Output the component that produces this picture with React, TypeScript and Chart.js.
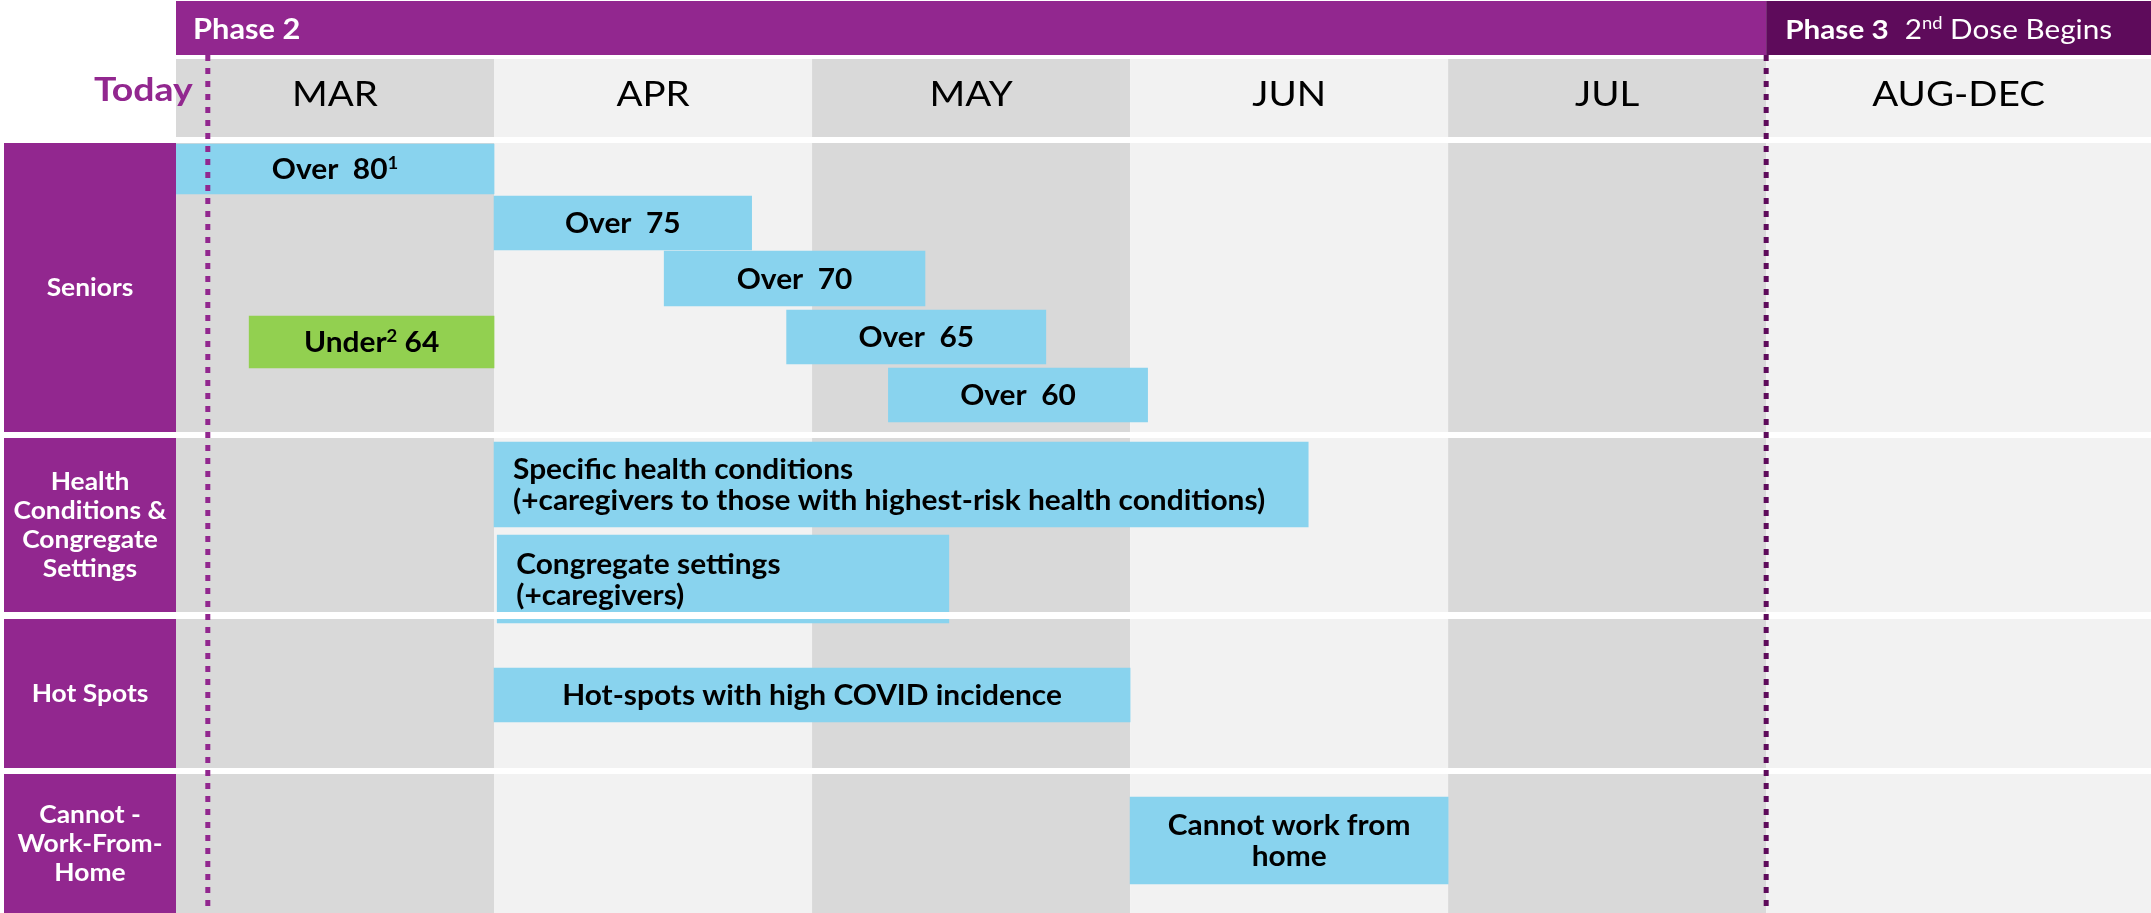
import React, { useEffect, useRef } from 'react';
import { Chart, registerables } from 'chart.js';

Chart.register(...registerables);

const W = 2151;
const H = 913;
const FONT = 'Lato, "Open Sans", sans-serif';

// ---- x axis: months (1 unit = 1 month, start of March = 0) ----
const months = ['MAR', 'APR', 'MAY', 'JUN', 'JUL', 'AUG-DEC'];
const monthStart = [0, 1, 2, 3, 4, 5];
const monthEnd = [1, 2, 3, 4, 5, 6.21];
const X_MAX = 6.21;
const todayAt = 0.1;
const phase3At = 5.0;
const phaseTitles = ['Phase 2', 'Phase 3'];
const phaseNote = '2^{nd} Dose Begins';

// ---- y axis: lane position (0 = top) ----
const Y_MAX = 91.3;
const phaseBand = [0.1, 5.5];
const headerBand = [5.9, 13.7];
const rowLabels = [
  ['Seniors'],
  ['Health', 'Conditions &', 'Congregate', 'Settings'],
  ['Hot Spots'],
  ['Cannot -', 'Work-From-', 'Home'],
];
const rowTop = [14.3, 43.8, 61.9, 77.4];
const rowBottom = [43.2, 61.2, 76.8, 91.3];

// ---- bars ----
const barLabels = [
  'Over  80^{1}',
  'Over  75',
  'Over  70',
  'Over  65',
  'Over  60',
  'Under^{2} 64',
  'Specific health conditions\n(+caregivers to those with highest-risk health conditions)',
  'Congregate settings\n(+caregivers)',
  'Hot-spots with high COVID incidence',
  'Cannot work from\nhome',
];
const barStart = [0.0, 1.0, 1.535, 1.92, 2.24, 0.23, 1.0, 1.01, 1.0, 3.0];
const barEnd = [1.0, 1.81, 2.355, 2.735, 3.055, 1.0, 3.56, 2.43, 3.0, 4.0];
const barLane = [16.9, 22.3, 27.85, 33.7, 39.5, 34.2, 48.45, 57.9, 69.5, 84.05];
const barSpan = [5.0, 5.4, 5.5, 5.4, 5.4, 5.2, 8.5, 8.8, 5.4, 8.7];
const barKind = ['blue', 'blue', 'blue', 'blue', 'blue', 'green', 'blue', 'blue', 'blue', 'blue'];

// ---- styles ----
const BLUE = '#89D3EE';
const GREEN = '#92D050';
const PURPLE = '#92278F';
const DARK = '#5E0B5B';
const GRAY = '#D9D9D9';
const LIGHT = '#F2F2F2';
const barAlign = ['center', 'center', 'center', 'center', 'center', 'center', 'left', 'left', 'center', 'center'];

function parseRich(s: string) {
  const segs: { t: string; sup: boolean }[] = [];
  const re = /\^\{([^}]*)\}/g;
  let last = 0;
  let m: RegExpExecArray | null;
  while ((m = re.exec(s))) {
    if (m.index > last) segs.push({ t: s.slice(last, m.index), sup: false });
    segs.push({ t: m[1], sup: true });
    last = m.index + m[0].length;
  }
  if (last < s.length) segs.push({ t: s.slice(last), sup: false });
  return segs;
}

function drawRich(
  ctx: CanvasRenderingContext2D,
  text: string,
  x: number,
  baseline: number,
  size: number,
  weight: string,
  color: string,
  align: string,
  stretch = 1
) {
  const segs = parseRich(text);
  const fontFor = (sup: boolean) => `${weight} ${sup ? size * 0.62 : size}px ${FONT}`;
  let total = 0;
  const widths = segs.map((sg) => {
    ctx.font = fontFor(sg.sup);
    const w = ctx.measureText(sg.t).width;
    total += w;
    return w;
  });
  total *= stretch;
  let cx = align === 'center' ? x - total / 2 : align === 'right' ? x - total : x;
  ctx.save();
  ctx.fillStyle = color;
  ctx.textAlign = 'left';
  ctx.textBaseline = 'alphabetic';
  segs.forEach((sg, i) => {
    ctx.font = fontFor(sg.sup);
    const by = sg.sup ? baseline - size * 0.36 : baseline;
    ctx.save();
    ctx.translate(cx, by);
    ctx.scale(stretch, 1);
    ctx.fillText(sg.t, 0, 0);
    ctx.restore();
    cx += widths[i] * stretch;
  });
  ctx.restore();
}

const backgroundPlugin = {
  id: 'gantt-background',
  beforeDatasetsDraw(chart: any) {
    const { ctx, chartArea, scales } = chart;
    const xs = scales.x;
    const ys = scales.y;
    const px = (v: number) => xs.getPixelForValue(v);
    const py = (v: number) => ys.getPixelForValue(v);
    ctx.save();
    // phase bar
    ctx.fillStyle = PURPLE;
    ctx.fillRect(px(0), py(phaseBand[0]), px(phase3At) - px(0), py(phaseBand[1]) - py(phaseBand[0]));
    ctx.fillStyle = DARK;
    ctx.fillRect(px(phase3At), py(phaseBand[0]), px(X_MAX) - px(phase3At), py(phaseBand[1]) - py(phaseBand[0]));
    const pBase = py(phaseBand[0]) + 38;
    drawRich(ctx, phaseTitles[0], px(0) + 17, pBase, 28, 'bold', '#FFFFFF', 'left', 1.1);
    drawRich(ctx, phaseTitles[1], px(phase3At) + 19, pBase, 27, 'bold', '#FFFFFF', 'left', 1.1);
    ctx.font = `bold 27px ${FONT}`;
    const p3w = ctx.measureText(phaseTitles[1]).width * 1.1;
    drawRich(ctx, phaseNote, px(phase3At) + 19 + p3w + 16, pBase, 27, 'normal', '#FFFFFF', 'left', 1.1);

    // month columns in header & rows
    const bands = [[headerBand[0], headerBand[1]], ...rowTop.map((t, i) => [t, rowBottom[i]])];
    bands.forEach(([t, b]) => {
      months.forEach((_, mi) => {
        ctx.fillStyle = mi % 2 === 0 ? GRAY : LIGHT;
        ctx.fillRect(px(monthStart[mi]), py(t), px(monthEnd[mi]) - px(monthStart[mi]), py(b) - py(t));
      });
    });
    // month labels
    const hBase = py(headerBand[0]) + 47;
    months.forEach((m, mi) => {
      drawRich(ctx, m, px((monthStart[mi] + monthEnd[mi]) / 2), hBase, 35, 'normal', '#000000', 'center', 1.1);
    });
    drawRich(ctx, 'Today', px(todayAt) - 15, py(headerBand[0]) + 42, 32, 'bold', PURPLE, 'right', 1.17);

    // row label column
    const labLeft = 4;
    const labRight = chartArea.left;
    rowLabels.forEach((lines, ri) => {
      const t = py(rowTop[ri]);
      const b = py(rowBottom[ri]);
      ctx.fillStyle = PURPLE;
      ctx.fillRect(labLeft, t, labRight - labLeft, b - t);
      const lh = 29;
      const size = 24;
      const mid = (t + b) / 2;
      lines.forEach((ln, li) => {
        const cy = mid + (li - (lines.length - 1) / 2) * lh;
        drawRich(ctx, ln, (labLeft + labRight) / 2, cy + size * 0.36, size, 'bold', '#FFFFFF', 'center', 1.1);
      });
    });
    ctx.restore();
  },
  afterDatasetsDraw(chart: any) {
    const { ctx, chartArea, scales } = chart;
    const xs = scales.x;
    const ys = scales.y;
    const px = (v: number) => xs.getPixelForValue(v);
    const py = (v: number) => ys.getPixelForValue(v);
    ctx.save();
    // white separators between row blocks (drawn over bars)
    ctx.fillStyle = '#FFFFFF';
    for (let i = 0; i < rowTop.length - 1; i++) {
      ctx.fillRect(chartArea.left, py(rowBottom[i]), chartArea.right - chartArea.left, py(rowTop[i + 1]) - py(rowBottom[i]));
    }
    // bar labels
    barLabels.forEach((lab, i) => {
      const el: any = chart.getDatasetMeta(i).data[0];
      if (!el) return;
      const { x, base, y } = el.getProps(['x', 'base', 'y'], true);
      const left = Math.min(x, base);
      const right = Math.max(x, base);
      const lines = lab.split('\n');
      const lh = 31;
      const size = 29;
      lines.forEach((ln, li) => {
        const cy = y + (li - (lines.length - 1) / 2) * lh;
        const align = barAlign[i];
        const tx = align === 'left' ? Math.max(left, chartArea.left) + 19 : (left + right) / 2;
        drawRich(ctx, ln, tx, cy + size * 0.36, size, 'bold', '#000000', align, 1.03);
      });
    });
    // dotted vertical lines
    const lineTop = py(phaseBand[1]);
    ctx.lineWidth = 5;
    ctx.setLineDash([6, 7]);
    [[todayAt, PURPLE], [phase3At, DARK]].forEach(([v, c]) => {
      ctx.strokeStyle = c as string;
      ctx.beginPath();
      ctx.moveTo(px(v as number), lineTop);
      ctx.lineTo(px(v as number), chartArea.bottom);
      ctx.stroke();
    });
    ctx.restore();
  },
};

export default function App() {
  const canvasRef = useRef<HTMLCanvasElement | null>(null);

  useEffect(() => {
    document.body.style.margin = '0';
    const canvas = canvasRef.current;
    if (!canvas) return;
    const pxPerUnit = H / Y_MAX;
    const chart = new Chart(canvas, {
      type: 'bar',
      data: {
        datasets: barLabels.map((lab, i) => ({
          label: lab,
          data: [{ x: [barStart[i], barEnd[i]], y: barLane[i] }] as any,
          backgroundColor: barKind[i] === 'green' ? GREEN : BLUE,
          borderWidth: 0,
          barThickness: barSpan[i] * pxPerUnit,
          stack: 'lanes',
          clip: 0 as any,
        })),
      },
      options: {
        indexAxis: 'y',
        responsive: false,
        animation: false,
        devicePixelRatio: 1,
        layout: { padding: { left: 176, right: 0, top: 0, bottom: 0 } },
        scales: {
          x: { type: 'linear', min: 0, max: X_MAX, display: false, stacked: false, offset: false },
          y: { type: 'linear', min: 0, max: Y_MAX, reverse: true, display: false, offset: false },
        },
        plugins: {
          legend: { display: false },
          tooltip: { enabled: false },
        },
      },
      plugins: [backgroundPlugin],
    });
    return () => chart.destroy();
  }, []);

  return (
    <div style={{ position: 'absolute', left: 0, top: 0, width: W, height: H, background: '#FFFFFF' }}>
      <canvas ref={canvasRef} width={W} height={H} style={{ width: W, height: H, display: 'block' }} />
    </div>
  );
}
